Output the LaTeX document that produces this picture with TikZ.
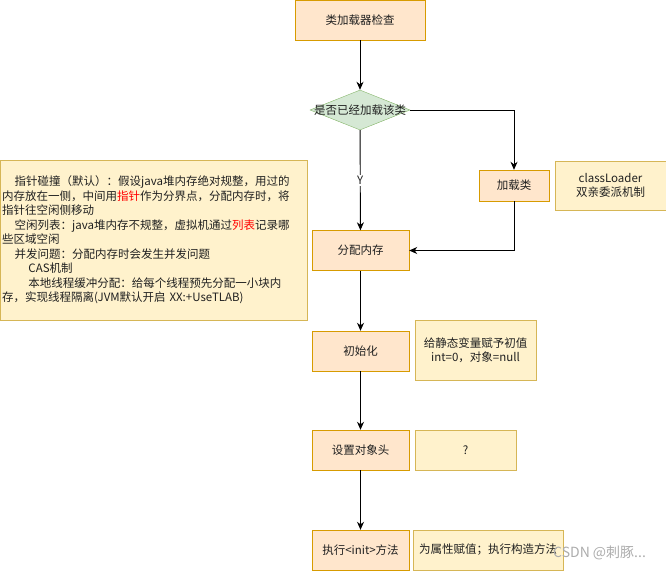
\documentclass[tikz,border=0pt]{standalone}
\usepackage{fontspec}
\setmainfont{Noto Sans CJK SC}
\usetikzlibrary{arrows.meta,shapes.geometric}
\definecolor{procfill}{HTML}{FFE6CC}
\definecolor{procdraw}{HTML}{D79B00}
\definecolor{notefill}{HTML}{FFF2CC}
\definecolor{notedraw}{HTML}{D6B656}
\definecolor{askfill}{HTML}{D5E8D4}
\definecolor{askdraw}{HTML}{82B366}
\definecolor{ink}{HTML}{202020}
\tikzset{
  proc/.style={draw=procdraw,fill=procfill,minimum width=97pt,minimum height=40pt,inner sep=0pt,text=ink},
  note/.style={draw=notedraw,fill=notefill,inner sep=0pt,align=center,text=ink},
  arr/.style={-{Stealth[length=8pt,width=7pt,inset=2.5pt]},line width=.9pt}
}
\begin{document}
\begin{tikzpicture}[x=1pt,y=-1pt,font=\fontsize{11.5}{14.5}\selectfont]
\useasboundingbox (0,0) rectangle (666,571);
\node[proc,minimum width=130pt] (check) at (360,20) {类加载器检查};
\node[diamond,draw=askdraw,fill=askfill,minimum width=100pt,minimum height=40pt,inner sep=0pt,
  label={[text=ink]center:是否已经加载该类}] (loaded) at (360,110) {};
\node[proc,minimum width=70pt,minimum height=31pt] (load) at (514,185.5) {加载类};
\node[note,minimum width=111pt,minimum height=49pt] (loader) at (610.5,185.5) {classLoader\\双亲委派机制};
\node[proc] (alloc) at (360.5,250.5) {分配内存};
\node[note,minimum width=307pt,minimum height=160pt,text width=303pt,align=left] (bump) at (153.5,240) {%
\hspace*{1.1em}指针碰撞（默认）：假设java堆内存绝对规整，用过的\\
内存放在一侧，中间用\textcolor{red}{指针}作为分界点，分配内存时，将\\
指针往空闲侧移动\\
\hspace*{1.1em}空闲列表：java堆内存不规整，虚拟机通过\textcolor{red}{列表}记录哪\\
些区域空闲\\
\hspace*{1.1em}并发问题：分配内存时会发生并发问题\\
\hspace*{2.3em}CAS机制\\
\hspace*{2.3em}本地线程缓冲分配：给每个线程预先分配一小块内\\
存，实现线程隔离(JVM默认开启 XX:+UseTLAB)};
\node[proc] (init) at (360.5,351) {初始化};
\node[note,minimum width=121pt,minimum height=60pt] (zero) at (475.5,350) {给静态变量赋予初值\\int=0，对象=null};
\node[proc] (head) at (360.5,450) {设置对象头};
\node[note,minimum width=101pt,minimum height=40pt] (what) at (465.5,450) {?};
\node[proc] (exec) at (360.5,550) {执行<init>方法};
\node[note,minimum width=150pt,minimum height=40pt] (assign) at (488,550) {为属性赋值；执行构造方法};
\node[text=gray!65,font=\fontsize{14}{16}\selectfont,anchor=west,inner sep=0pt] (mark) at (553,553) {CSDN @刺豚...};
% flow
\draw[arr] (check) -- (loaded);
\draw[arr] (loaded) -- node[fill=white,inner sep=1.5pt,text=ink] {Y} (alloc);
\draw[arr] (loaded.east) -| (load.north);
\draw[arr] (load.south) |- (alloc.east);
\draw[arr] (alloc) -- (init);
\draw[arr] (init) -- (head);
\draw[arr] (head) -- (exec);
\end{tikzpicture}
\end{document}
